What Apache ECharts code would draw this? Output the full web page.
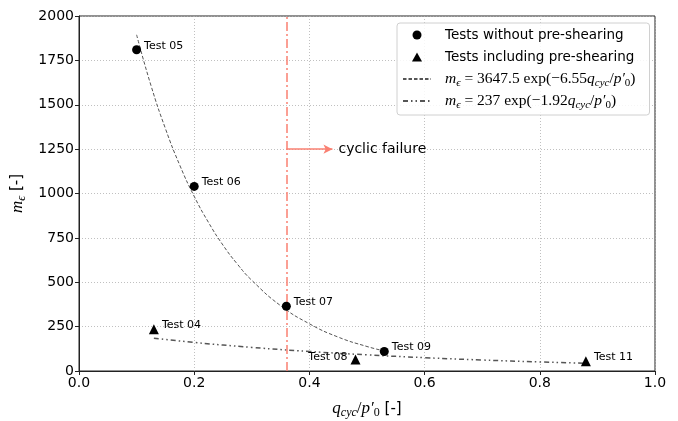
<!DOCTYPE html>
<html lang="en">
<head>
    <meta charset="UTF-8">
    <title>m_e vs q_cyc/p0</title>
    <script src="https://cdn.jsdelivr.net/npm/echarts@6/dist/echarts.min.js"></script>
    <style>
        html, body { margin: 0; padding: 0; background: #fff; }
    </style>
</head>
<body>
<div id="chart" style="width:678px;height:421px;"></div>
<script type="text/javascript">

    // tests without pre-shearing (circles)
    var circleNames = ['Test 05', 'Test 06', 'Test 07', 'Test 09'];
    var circleX = [0.10, 0.20, 0.36, 0.53];
    var circleY = [1810, 1040, 365, 110];

    // tests including pre-shearing (triangles)
    var triNames = ['Test 04', 'Test 08', 'Test 11'];
    var triX = [0.13, 0.48, 0.88];
    var triY = [235, 65, 55];

    // fitted curves
    var fit1X = [0.10, 0.125, 0.15, 0.175, 0.20, 0.225, 0.25, 0.275, 0.30, 0.35, 0.40, 0.45, 0.50, 0.53];
    var fit1Y = [1894, 1608, 1366, 1159, 984, 836, 709, 602, 511, 368, 266, 191, 138, 113];
    var fit2X = [0.13, 0.20, 0.30, 0.40, 0.50, 0.60, 0.70, 0.80, 0.88];
    var fit2Y = [185, 161, 133, 110, 91, 75, 62, 51, 44];

    var failureX = 0.36;
    var arrowY = 1250;
    var arrowEndX = 0.44;

    function zip(xs, ys) {
        var out = [];
        for (var i = 0; i < xs.length; i++) out.push([xs[i], ys[i]]);
        return out;
    }

    var circleData = [];
    for (var i = 0; i < circleX.length; i++) {
        circleData.push({value: [circleX[i], circleY[i]], name: circleNames[i]});
    }
    var triData = [];
    for (var j = 0; j < triX.length; j++) {
        var d = {value: [triX[j], triY[j]], name: triNames[j]};
        if (triNames[j] === 'Test 08') {
            d.label = {position: 'left', offset: [0, -2]};
        }
        triData.push(d);
    }

    // rich text styles for the math labels
    var SERIF = 'Liberation Serif';
    function mathRich(size, plain) {
        var sub = Math.round(size * 0.72);
        return {
            g: {width: 9, lineHeight: 20},
            t: {fontFamily: 'DejaVu Sans', fontSize: plain, color: '#000', lineHeight: 20, verticalAlign: 'middle'},
            i: {fontFamily: SERIF, fontStyle: 'italic', fontSize: size, color: '#000', lineHeight: 20, verticalAlign: 'middle'},
            r: {fontFamily: SERIF, fontSize: size, color: '#000', lineHeight: 20, verticalAlign: 'middle'},
            s: {fontFamily: SERIF, fontStyle: 'italic', fontSize: sub, color: '#000', lineHeight: 9, verticalAlign: 'bottom'},
            n: {fontFamily: SERIF, fontSize: sub, color: '#000', lineHeight: 9, verticalAlign: 'bottom'}
        };
    }

    var fit1Name = 'fit1';
    var fit2Name = 'fit2';

    var myChart = echarts.init(document.getElementById('chart'));

    var option = {
        animation: false,
        backgroundColor: '#fff',
        grid: {
            left: 79,
            right: 23,
            top: 16,
            bottom: 50,
            outerBoundsMode: 'none',
            show: true,
            borderColor: '#222',
            borderWidth: 1
        },
        legend: {
            left: 397,
            top: 23,
            orient: 'vertical',
            itemGap: 2,
            itemWidth: 28,
            itemHeight: 9,
            padding: [2, 14, 4, 5],
            backgroundColor: 'rgba(255,255,255,0.85)',
            borderColor: '#d0d0d0',
            borderWidth: 1,
            borderRadius: 3,
            data: [
                {name: 'Tests without pre-shearing', icon: 'circle', itemStyle: {color: '#000'}},
                {name: 'Tests including pre-shearing', icon: 'path://M5,0 L10,9 L0,9 Z', itemStyle: {color: '#000'}},
                {name: fit1Name, itemStyle: {opacity: 0}},
                {name: fit2Name, itemStyle: {opacity: 0}}
            ],
            textStyle: {
                fontFamily: 'DejaVu Sans',
                fontSize: 13.5,
                color: '#000',
                lineHeight: 20,
                height: 20,
                rich: mathRich(15.5, 13.5)
            },
            formatter: function (name) {
                if (name === fit1Name) {
                    return '{g| }{i|m}{s|ϵ}{r| = 3647.5 }{r|exp(−6.55}{i|q}{s|cyc}{r|/}{i|p′}{n|0}{r|)}';
                }
                if (name === fit2Name) {
                    return '{g| }{i|m}{s|ϵ}{r| = 237 }{r|exp(−1.92}{i|q}{s|cyc}{r|/}{i|p′}{n|0}{r|)}';
                }
                return '{g| }{t|' + name + '}';
            }
        },
        xAxis: {
            type: 'value',
            min: 0,
            max: 1,
            interval: 0.2,
            name: '{i|q}{s|cyc}{r|/}{i|p′}{n|0}{t| [-]}',
            nameLocation: 'middle',
            nameGap: 28,
            nameTextStyle: {rich: mathRich(17, 15)},
            axisLine: {show: true, onZero: false, lineStyle: {color: '#222'}},
            axisTick: {show: true, length: 4, lineStyle: {color: '#222'}},
            axisLabel: {
                fontFamily: 'DejaVu Sans', fontSize: 14, color: '#000', margin: 5,
                formatter: function (v) { return v.toFixed(1); }
            },
            splitLine: {show: true, lineStyle: {color: '#b0b0b0', type: [1, 2], width: 0.8}}
        },
        yAxis: {
            type: 'value',
            min: 0,
            max: 2000,
            interval: 250,
            name: '{i|m}{s|ϵ}{t| [-]}',
            nameLocation: 'middle',
            nameGap: 51,
            nameRotate: 90,
            nameTextStyle: {rich: mathRich(17, 15)},
            axisLine: {show: true, lineStyle: {color: '#222'}},
            axisTick: {show: true, length: 4, lineStyle: {color: '#222'}},
            axisLabel: {
                fontFamily: 'DejaVu Sans', fontSize: 14, color: '#000', margin: 5,
                formatter: function (v) { return String(v); }
            },
            splitLine: {show: true, lineStyle: {color: '#b0b0b0', type: [1, 2], width: 0.8}}
        },
        series: [
            {
                name: fit1Name,
                type: 'line',
                smooth: true,
                symbol: 'none',
                color: '#555',
                lineStyle: {color: '#555', width: 1, type: [3.5, 2]},
                data: zip(fit1X, fit1Y),
                z: 2
            },
            {
                name: fit2Name,
                type: 'line',
                smooth: true,
                symbol: 'none',
                color: '#555',
                lineStyle: {color: '#555', width: 1.5, type: [5, 3, 1.5, 3, 1.5, 3]},
                data: zip(fit2X, fit2Y),
                z: 2
            },
            {
                name: 'failure',
                type: 'line',
                data: [],
                markLine: {
                    silent: true,
                    symbol: 'none',
                    animation: false,
                    data: [
                        {
                            xAxis: failureX,
                            lineStyle: {color: '#fa8072', width: 1.5, type: [9, 3, 2, 3]},
                            label: {show: false}
                        },
                        [
                            {coord: [failureX, arrowY], symbol: 'none'},
                            {
                                coord: [arrowEndX, arrowY],
                                symbol: 'arrow',
                                symbolSize: [7, 9],
                                lineStyle: {color: '#fa8072', width: 1.5, type: 'solid'},
                                label: {
                                    show: true,
                                    position: 'end',
                                    formatter: 'cyclic failure',
                                    fontFamily: 'DejaVu Sans',
                                    fontSize: 14,
                                    color: '#000',
                                    distance: 6
                                }
                            }
                        ]
                    ]
                },
                z: 3
            },
            {
                name: 'Tests without pre-shearing',
                type: 'scatter',
                symbol: 'circle',
                symbolSize: 9,
                itemStyle: {color: '#000', opacity: 1},
                label: {
                    show: true,
                    position: 'right',
                    offset: [0, -4],
                    distance: 3,
                    formatter: '{b}',
                    fontFamily: 'DejaVu Sans',
                    fontSize: 11,
                    color: '#000'
                },
                data: circleData,
                z: 5
            },
            {
                name: 'Tests including pre-shearing',
                type: 'scatter',
                symbol: 'triangle',
                symbolSize: 10,
                itemStyle: {color: '#000', opacity: 1},
                label: {
                    show: true,
                    position: 'right',
                    offset: [0, -4],
                    distance: 3,
                    formatter: '{b}',
                    fontFamily: 'DejaVu Sans',
                    fontSize: 11,
                    color: '#000'
                },
                data: triData,
                z: 5
            }
        ]
    };

    myChart.setOption(option);

</script>
</body>
</html>
